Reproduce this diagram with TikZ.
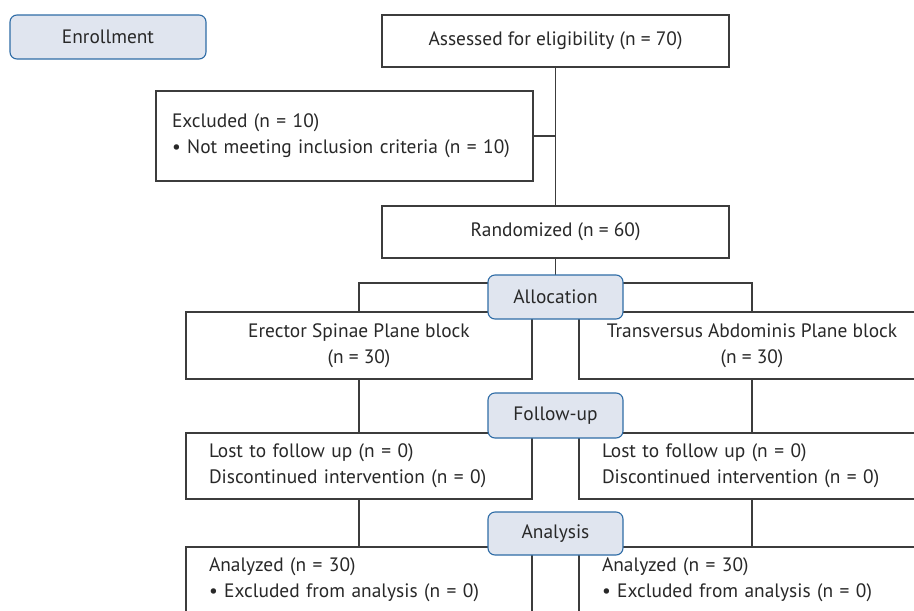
\documentclass[tikz,border=0pt]{standalone}
\usepackage{fontspec}
\setmainfont{PT Sans}
\usetikzlibrary{backgrounds}
\definecolor{linec}{RGB}{60,60,60}
\definecolor{txtc}{RGB}{40,40,40}
\definecolor{phasefill}{RGB}{224,229,239}
\definecolor{phasedraw}{RGB}{46,108,166}
\tikzset{
  box/.style={draw=linec, line width=1.1pt, fill=white, inner sep=0pt, text=txtc, align=center},
  leftbox/.style={box, align=left, text width=300pt, inner xsep=23pt, inner ysep=0pt},
  phase/.style={draw=phasedraw, line width=1.1pt, fill=phasefill, rounded corners=7pt, inner sep=0pt, text=txtc, minimum width=135pt, minimum height=44pt},
  conn/.style={draw=linec, line width=1.1pt}
}
\begin{document}
\begin{tikzpicture}[x=1pt,y=-1pt, font=\fontsize{19.4}{26}\selectfont]
\useasboundingbox (0,0) rectangle (914,611);
% enrollment
\node[phase, minimum width=196pt, minimum height=44pt] (enroll) at (108,37) {Enrollment};
\node[box, minimum width=347pt, minimum height=52pt] (assess) at (555.5,41) {Assessed for eligibility (n = 70)};
\node[leftbox, text width=345pt, inner xsep=16pt, minimum height=90pt] (excl) at (344.5,136) {Excluded (n = 10)\\ • Not meeting inclusion criteria (n = 10)};
\node[box, minimum width=347pt, minimum height=52pt] (rand) at (555.5,232) {Randomized (n = 60)};
% allocation
\node[box, minimum width=346pt, minimum height=67pt] (esp) at (359,345.5) {Erector Spinae Plane block\\ (n = 30)};
\node[box, minimum width=346pt, minimum height=67pt] (tap) at (752,345.5) {Transversus Abdominis Plane block\\ (n = 30)};
% follow-up
\node[leftbox, minimum height=66pt] (lost1) at (359,466) {Lost to follow up (n = 0)\\ Discontinued intervention (n = 0)};
\node[leftbox, minimum height=66pt] (lost2) at (752,466) {Lost to follow up (n = 0)\\ Discontinued intervention (n = 0)};
% analysis
\node[leftbox, minimum height=66pt] (an1) at (359,580) {Analyzed (n = 30)\\ • Excluded from analysis (n = 0)};
\node[leftbox, minimum height=66pt] (an2) at (752,580) {Analyzed (n = 30)\\ • Excluded from analysis (n = 0)};
% phase labels
\node[phase] (alloc) at (555.5,297) {Allocation};
\node[phase, minimum height=45pt] (fu) at (555.5,415.5) {Follow-up};
\node[phase, minimum height=43pt] (anl) at (555.5,533.5) {Analysis};
\coordinate (split) at (555.5,283);
\begin{pgfonlayer}{background}
\draw[conn] (assess.south) -- (rand.north);
\draw[conn] (excl.east) -- (excl.east -| assess.south);
\draw[conn] (rand.south) -- (split);
\draw[conn] (esp.north) |- (split) -| (tap.north);
\draw[conn] (esp.south) -- (lost1.north);
\draw[conn] (tap.south) -- (lost2.north);
\draw[conn] (lost1.south) -- (an1.north);
\draw[conn] (lost2.south) -- (an2.north);
\end{pgfonlayer}
\end{tikzpicture}
\end{document}
